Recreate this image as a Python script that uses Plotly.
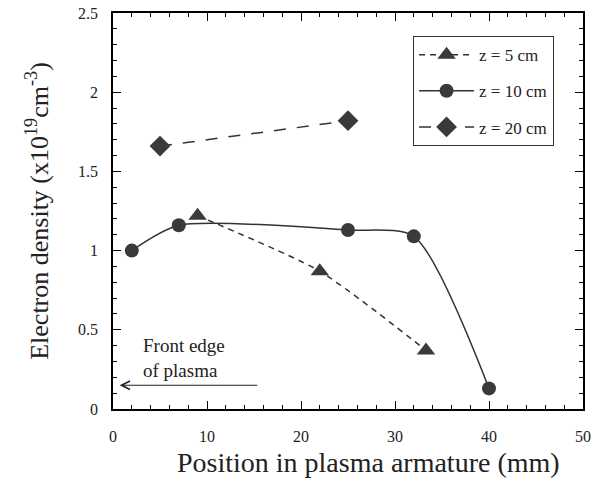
import plotly.graph_objects as go

# Data
x_5cm = [9, 22, 33.3]
y_5cm = [1.22, 0.87, 0.37]

x_10cm = [2, 7, 25, 32, 40]
y_10cm = [1.00, 1.16, 1.13, 1.09, 0.13]

x_20cm = [5, 25]
y_20cm = [1.66, 1.82]

x_ticks = [0, 10, 20, 30, 40, 50]
y_ticks = [0, 0.5, 1, 1.5, 2, 2.5]
y_tick_labels = ["0", "0.5", "1", "1.5", "2", "2.5"]

FONT = "Liberation Serif, Times New Roman, serif"
INK = "#222222"
MARK = "#3a3a3a"

fig = go.Figure()

fig.add_trace(go.Scatter(
    x=x_5cm, y=y_5cm, name="z = 5 cm", legendgroup="a",
    mode="lines+markers",
    line=dict(color="#333333", width=1.5, dash="6px,5px", shape="spline", smoothing=0.6),
    marker=dict(symbol="triangle-up", size=16, color=MARK),
))
fig.add_trace(go.Scatter(
    x=x_10cm, y=y_10cm, name="z = 10 cm", legendgroup="b",
    mode="lines+markers",
    line=dict(color="#333333", width=1.5, shape="spline", smoothing=0.7),
    marker=dict(symbol="circle", size=14, color=MARK),
))
fig.add_trace(go.Scatter(
    x=x_20cm, y=y_20cm, name="z = 20 cm", legendgroup="c",
    mode="lines+markers",
    line=dict(color="#333333", width=1.5, dash="12px,11px"),
    marker=dict(symbol="diamond", size=16, color=MARK),
))

# Annotation text and arrow
fig.add_annotation(
    x=3.0, y=0.32, xref="x", yref="y",
    text="Front edge<br>of plasma", showarrow=False,
    xanchor="left", yanchor="middle", align="left",
    font=dict(family=FONT, size=19, color=INK),
)
fig.add_annotation(
    x=0.7, y=0.15, ax=15.5, ay=0.15,
    xref="x", yref="y", axref="x", ayref="y",
    text="", showarrow=True, arrowhead=5, arrowsize=1.4,
    arrowwidth=1.2, arrowcolor=INK,
)
# X axis title (placed slightly right of centre, as in the reference)
fig.add_annotation(
    x=0.5426, y=-0.134, xref="paper", yref="paper",
    text="Position in plasma armature (mm)", showarrow=False,
    xanchor="center", yanchor="middle",
    font=dict(family=FONT, size=28, color=INK),
)

fig.update_xaxes(
    range=[0, 50], tickvals=x_ticks, automargin=False,
    showline=True, linecolor="black", linewidth=1.5, mirror="ticks",
    ticks="inside", ticklen=8, tickwidth=1.2, tickcolor="black",
    minor=dict(ticks="inside", dtick=2, ticklen=4, tickwidth=1, tickcolor="black"),
    showgrid=False, zeroline=False,
    tickfont=dict(family=FONT, size=16, color=INK),
    ticklabelstandoff=12,
)
fig.update_yaxes(
    range=[0, 2.5], tickvals=y_ticks, ticktext=y_tick_labels, automargin=False,
    showline=True, linecolor="black", linewidth=1.5, mirror="ticks",
    ticks="inside", ticklen=8, tickwidth=1.2, tickcolor="black",
    minor=dict(ticks="inside", dtick=0.1, ticklen=4, tickwidth=1, tickcolor="black"),
    showgrid=False, zeroline=False,
    tickfont=dict(family=FONT, size=16, color=INK),
    ticklabelstandoff=10,
    title=dict(text="Electron density (x10<sup>19</sup>cm<sup>-3</sup>)",
               font=dict(family=FONT, size=26, color=INK), standoff=22),
)

fig.update_layout(
    width=602, height=482,
    margin=dict(l=113, r=19, t=13, b=73),
    paper_bgcolor="white", plot_bgcolor="white",
    font=dict(family=FONT, color=INK),
    showlegend=True,
    legend=dict(
        x=0.638, y=0.942, xanchor="left", yanchor="top",
        bgcolor="white", bordercolor="#333333", borderwidth=1.2,
        font=dict(family=FONT, size=17, color=INK),
        tracegroupgap=11, itemwidth=55,
    ),
)

fig.write_html("out.html", config={"displayModeBar": False},
               post_script="document.body.style.margin='0';")
